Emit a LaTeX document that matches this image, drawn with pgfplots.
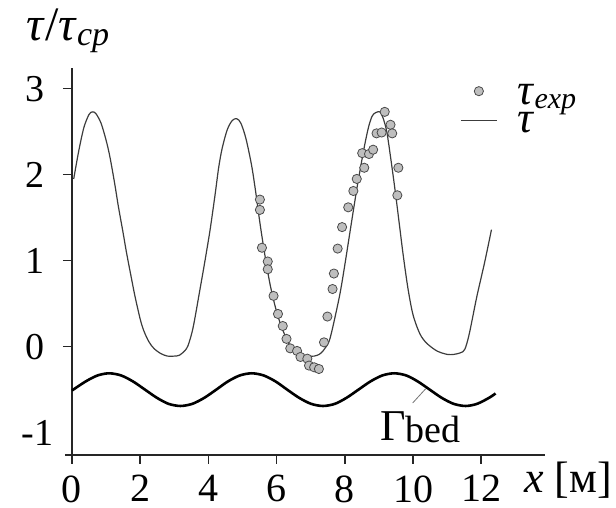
\documentclass[border=0pt]{standalone}
\usepackage{pgfplots}
\pgfplotsset{compat=1.18}
\usepackage{fontspec}
\setmainfont{Liberation Serif}

\definecolor{curve}{HTML}{3C3C3C}
\definecolor{ptfill}{HTML}{BEBEBE}
\definecolor{ptdraw}{HTML}{4A4A4A}

\begin{document}
\begin{tikzpicture}
\path[use as bounding box] (-36pt,-26.5pt) rectangle (272pt,227.5pt);
\begin{axis}[
  scale only axis,
  width=236.5pt, height=193.5pt,
  xmin=0, xmax=13.87,
  ymin=-1.26, ymax=3.24,
  axis lines=left,
  axis line style={-, line width=1pt, black!85},
  x axis line style={shorten <=-3.5pt},
  tick align=outside,
  major tick length=4.5pt,
  tick style={line width=0.8pt, black!85},
  xtick={0,2,...,12},
  ytick={0,1,2,3},
  extra y ticks={-1},
  extra y tick labels={-1},
  extra y tick style={major tick length=0pt},
  /pgf/number format/assume math mode=true,
  xticklabel style={font=\fontsize{20}{20}\selectfont, anchor=north, inner sep=0pt, yshift=-5.5pt},
  yticklabel style={font=\fontsize{19}{19}\selectfont, anchor=east, inner sep=0pt, xshift=-9pt},
  legend style={at={(0.82,0.906)}, anchor=west, draw=none, fill=none, inner sep=0pt,
    font=\fontsize{22}{22}\selectfont, column sep=10pt, row sep=11.7pt,
    nodes={inner sep=0pt}},
  legend cell align=left,
  reverse legend,
  legend image code/.code={\draw[mark repeat=2,mark phase=2,#1] plot coordinates {(0pt,0pt)(9pt,0pt)(18pt,0pt)};},
  clip=false,
]
% tau, computed
\addplot[curve, line width=0.6pt, smooth] coordinates {
 (0.05,1.95) (0.2,2.28) (0.35,2.55) (0.5,2.70) (0.6,2.73) (0.7,2.71) (0.85,2.60)
 (1.0,2.40) (1.11,2.21) (1.25,1.90) (1.36,1.63) (1.5,1.32) (1.6,1.09) (1.75,0.78)
 (1.85,0.58) (2.0,0.32) (2.1,0.19) (2.25,0.06) (2.4,-0.02) (2.6,-0.08) (2.8,-0.11)
 (3.0,-0.11) (3.15,-0.10) (3.3,-0.05) (3.4,0.01) (3.55,0.22) (3.75,0.66) (3.9,1.0)
 (4.05,1.36) (4.2,1.78) (4.3,2.08) (4.4,2.30) (4.55,2.52) (4.7,2.63) (4.83,2.65)
 (4.95,2.60) (5.1,2.42) (5.27,2.10) (5.4,1.76) (5.51,1.44) (5.65,1.08) (5.8,0.74)
 (5.95,0.48) (6.1,0.28) (6.3,0.08) (6.48,-0.03) (6.7,-0.09) (6.9,-0.11) (7.1,-0.11)
 (7.25,-0.09) (7.36,-0.05) (7.5,0.03) (7.57,0.10) (7.7,0.32) (7.86,0.62) (8.0,0.95)
 (8.15,1.33) (8.35,1.83) (8.5,2.17) (8.6,2.38) (8.7,2.56) (8.8,2.68) (8.9,2.72)
 (9.03,2.73) (9.12,2.66) (9.23,2.50) (9.35,2.18) (9.47,1.83) (9.6,1.42) (9.71,1.07)
 (9.85,0.68) (10.0,0.37) (10.2,0.15) (10.4,0.04) (10.7,-0.05) (11.0,-0.09) (11.2,-0.09)
 (11.4,-0.07) (11.52,-0.03) (11.65,0.15) (11.87,0.58) (12.1,0.98) (12.3,1.36)
};
\addlegendentry{\smash{\raisebox{-6.5pt}{\textit{τ}}}}
% tau, measured
\addplot[only marks, mark=*, mark size=2.3pt,
  mark options={fill=ptfill, draw=ptdraw, line width=0.4pt}] coordinates {
 (5.51,1.71) (5.51,1.59) (5.57,1.15) (5.74,0.99) (5.74,0.90) (5.91,0.59) (6.04,0.38)
 (6.18,0.24) (6.29,0.09) (6.40,-0.02) (6.60,-0.05) (6.70,-0.12) (6.90,-0.14) (6.95,-0.22)
 (7.10,-0.24) (7.24,-0.26) (7.39,0.05) (7.49,0.35) (7.64,0.67) (7.68,0.85) (7.79,1.14)
 (7.92,1.39) (8.10,1.62) (8.25,1.81) (8.35,1.95) (8.51,2.25) (8.57,2.08) (8.71,2.24)
 (8.83,2.29) (8.93,2.48) (9.08,2.49) (9.17,2.73) (9.34,2.58) (9.39,2.48) (9.57,2.08)
 (9.54,1.76)
};
\addlegendentry{\smash{\raisebox{-7.5pt}{\textit{τ}\raisebox{-2pt}{\fontsize{15}{15}\selectfont\textit{exp}}}}}
% bed
\addplot[black, line width=1.3pt, smooth, forget plot] coordinates {
 (0,-0.51) (0.40,-0.405) (0.75,-0.335) (1.09,-0.31) (1.44,-0.335) (1.79,-0.405)
 (2.14,-0.50) (2.49,-0.595) (2.83,-0.665) (3.18,-0.69) (3.53,-0.665) (3.88,-0.595)
 (4.23,-0.50) (4.57,-0.405) (4.92,-0.335) (5.27,-0.31) (5.62,-0.335) (5.97,-0.405)
 (6.31,-0.50) (6.66,-0.595) (7.01,-0.665) (7.36,-0.69) (7.71,-0.665) (8.05,-0.595)
 (8.40,-0.50) (8.75,-0.405) (9.10,-0.335) (9.45,-0.31) (9.80,-0.335) (10.14,-0.405)
 (10.49,-0.50) (10.84,-0.595) (11.19,-0.665) (11.54,-0.69) (11.88,-0.665) (12.23,-0.595)
 (12.42,-0.545)
};
\draw[black!55, line width=0.4pt] (axis cs:9.99,-0.655) -- (axis cs:10.37,-0.49);
\node[anchor=base west, inner sep=0pt] at (axis cs:9.03,-1.086)
  {\fontsize{22}{22}\selectfont Γ\raisebox{-1pt}{\fontsize{19}{19}\selectfont bed}};
\end{axis}
\node[anchor=base west, inner sep=0pt] at (226pt,-19pt)
  {\fontsize{22}{22}\selectfont\textit{x} [м]};
\node[anchor=base west, inner sep=0pt] at (-23pt,207pt)
  {\fontsize{24}{24}\selectfont\textit{τ}/\textit{τ}\raisebox{-2.5pt}{\fontsize{17}{17}\selectfont\textit{cp}}};
\end{tikzpicture}
\end{document}
